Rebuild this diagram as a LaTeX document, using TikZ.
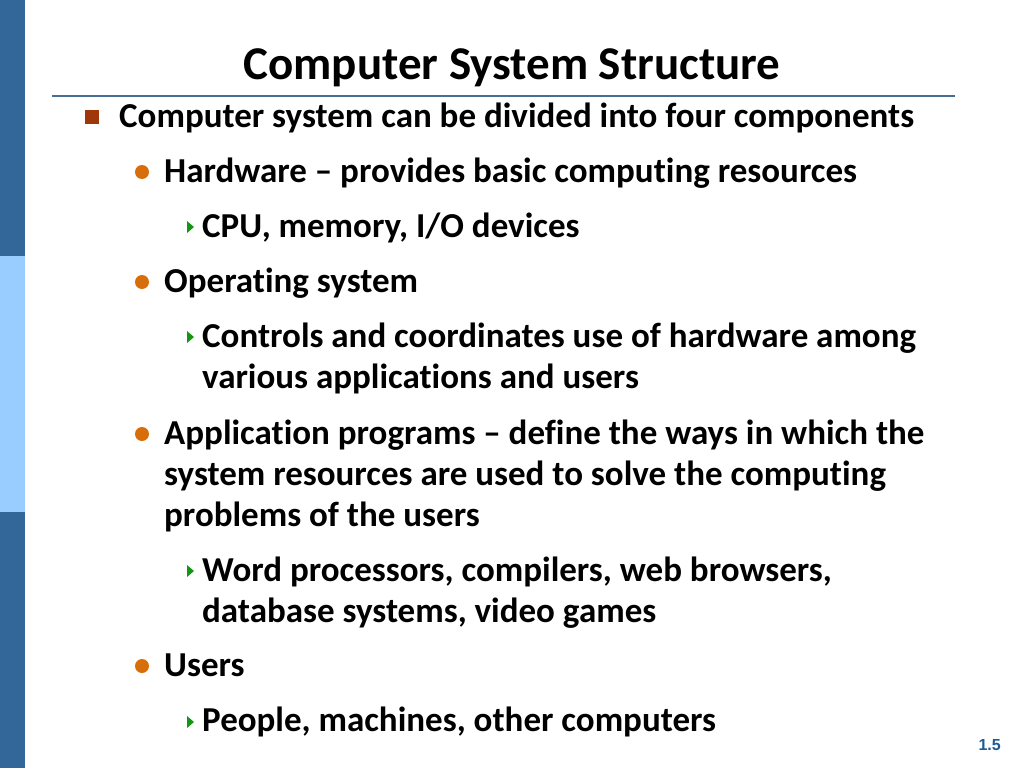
\documentclass[tikz,border=0pt]{standalone}
\usepackage{fontspec}
\setmainfont{Carlito}[Ligatures=NoCommon]
\newfontfamily\pgfont{Liberation Sans}
\definecolor{bardark}{RGB}{51,102,153}
\definecolor{barlight}{RGB}{153,204,255}
\definecolor{rulec}{RGB}{70,110,150}
\definecolor{sqc}{RGB}{160,55,10}
\definecolor{dotc}{RGB}{215,110,10}
\definecolor{tric}{RGB}{20,150,20}
\definecolor{pgc}{RGB}{30,90,150}
\begin{document}
\begin{tikzpicture}[x=1pt,y=-1pt,
 txt/.style={anchor=base west,inner sep=0pt,font=\bfseries\fontsize{35}{41}\selectfont},
 sq/.style={fill=sqc,minimum size=14pt,inner sep=0pt},
 dot/.style={circle,fill=dotc,minimum size=14pt,inner sep=0pt},
 tri/.style={fill=tric}]
\useasboundingbox (0,0) rectangle (1024,768);
\fill[white] (0,0) rectangle (1024,768);
\fill[bardark] (0,0) rectangle (25,256);
\fill[barlight] (0,256) rectangle (25,512);
\fill[bardark] (0,512) rectangle (25,768);
\draw[rulec,line width=1.5pt] (52,96) coordinate (l1) -- (955,96) coordinate (l2);
\node[inner sep=0pt,anchor=base,font=\bfseries\fontsize{47}{50}\selectfont] (title) at (512,79) {Computer System Structure};
\node[sq] (b0) at (92,117) {};
\node[txt] (t0) at (119,127) {Computer system can be divided into four components};
\node[dot] (b1) at (142,172) {};
\node[txt] (t1) at (164,182) {Hardware – provides basic computing resources};
\fill[tri] (187,221) -- (194,227) -- (187,233) -- cycle;
\node[txt] (t2) at (202,237) {CPU, memory, I/O devices};
\node[dot] (b2) at (142,282) {};
\node[txt] (t3) at (164,292) {Operating system};
\fill[tri] (187,331) -- (194,337) -- (187,343) -- cycle;
\node[txt] (t4) at (202,347) {Controls and coordinates use of hardware among};
\node[txt] (t4b) at (202,388) {various applications and users};
\node[dot] (b3) at (142,434) {};
\node[txt] (t5) at (164,444) {Application programs – define the ways in which the};
\node[txt] (t5b) at (164,485) {system resources are used to solve the computing};
\node[txt] (t5c) at (164,526) {problems of the users};
\fill[tri] (187,565) -- (194,571) -- (187,577) -- cycle;
\node[txt] (t6) at (202,581) {Word processors, compilers, web browsers,};
\node[txt] (t6b) at (202,622) {database systems, video games};
\node[dot] (b4) at (142,666) {};
\node[txt] (t7) at (164,676) {Users};
\fill[tri] (187,716) -- (194,722) -- (187,728) -- cycle;
\node[txt] (t8) at (202,731) {People, machines, other computers};
\node[anchor=base east,inner sep=0pt,font=\pgfont\bfseries\fontsize{16}{18}\selectfont,text=pgc] (pg) at (1001,750) {1.5};
\end{tikzpicture}
\end{document}
